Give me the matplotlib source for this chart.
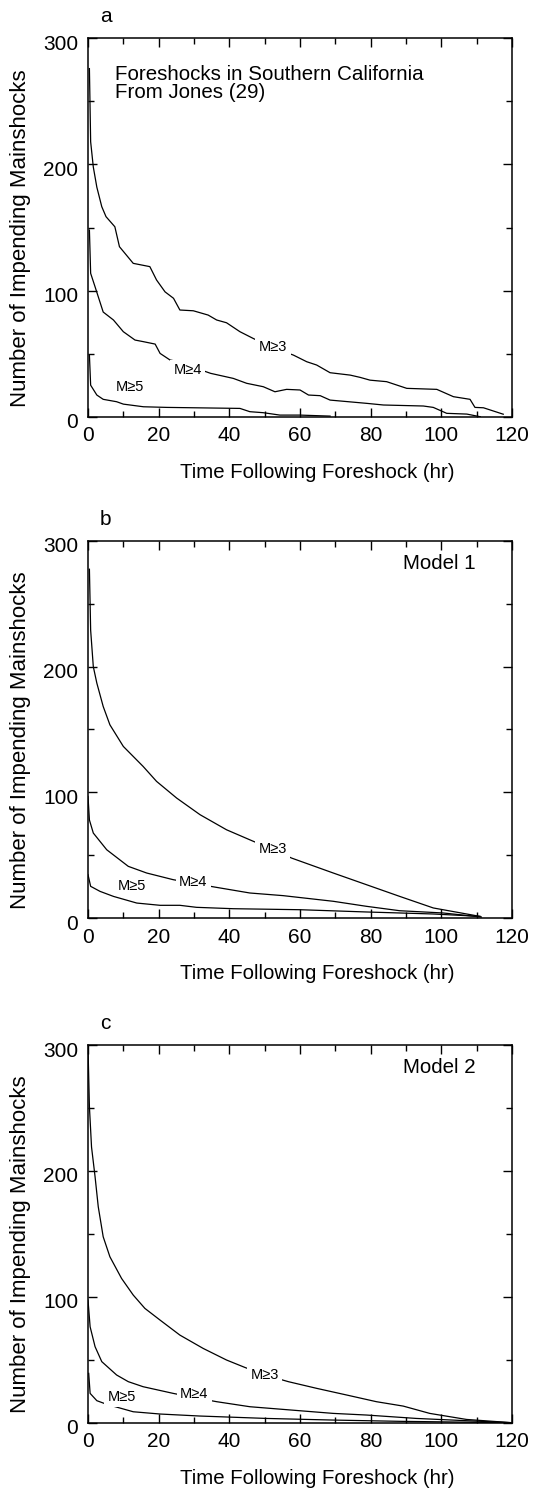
import matplotlib
matplotlib.use("Agg")
import matplotlib.pyplot as plt
from matplotlib.ticker import MultipleLocator
from matplotlib.transforms import ScaledTranslation

plt.rcParams['font.family'] = ['Liberation Sans', 'DejaVu Sans']

# panel a: observed (Jones 29)
a_m3_x = [0.4, 0.75, 1.5, 2.5, 3.9, 5.1, 7.6, 8.9, 12.8, 17.5, 19.4, 21.8, 24.2, 26, 29.8, 34, 36.4, 39.2, 43, 46.8,
          52, 58.1, 61.9, 64.7, 68.5, 74.2, 77, 79.8, 84.5, 90.2, 98.7, 103.4, 108.1, 109.5, 111.9, 117.5]
a_m3_y = [276, 218, 198, 182, 166.5, 158.6, 150.6, 134.8, 121.6, 119, 108.4, 99, 93.9, 84.6, 84, 80.6, 76.7, 74.5, 67.4, 62,
          55, 48.9, 43.6, 41, 34.9, 33, 31.2, 29, 27.8, 22.5, 21.7, 15.9, 13.8, 7.4, 7.1, 2]
a_m4_x = [0.4, 0.75, 2, 4.3, 7.2, 10, 13.3, 15.7, 19, 20.4, 23.2, 25.6, 30, 34.7, 41.1, 44.9, 49.6, 52.9, 56.2, 60,
          62.4, 65.7, 68.5, 78.9, 83.6, 94.9, 97.7, 101.5, 107.2, 111]
a_m4_y = [148, 113.7, 103, 83, 76.7, 67.4, 60.8, 59.5, 57.6, 50.2, 45, 43.6, 39, 34.4, 30.4, 26.5, 23.8, 19.8, 21.7, 21.2,
          17.2, 16.7, 13.2, 10.6, 9.3, 8.5, 7.4, 2.7, 2.1, 0]
a_m5_x = [0.4, 0.75, 2.5, 4.3, 8.1, 10, 15.7, 22.3, 43, 45.8, 49.6, 54.3, 60, 68.5]
a_m5_y = [48.9, 25, 17.2, 13.8, 11.9, 10, 7.9, 7.4, 6.6, 4, 3.2, 1.3, 1.3, 0.5]

# panel b: Model 1
b_m3_x = [0.4, 0.75, 1.5, 2.5, 4.3, 6.2, 10, 15.6, 19.4, 25.1, 31.7, 39.2, 46.8, 52, 57.6, 69.4, 78.8, 88.2, 97.7, 110.9]
b_m3_y = [277.5, 229, 200, 186.9, 168.3, 153.7, 136.5, 120.6, 108.7, 95.4, 82.2, 70.2, 61, 55, 47.7, 35.8, 26.5, 17.2, 8, 1.3]
b_m4_x = [0, 0.4, 1.5, 5.3, 11.4, 16.6, 24.1, 30, 35.9, 45.8, 55.2, 69.4, 78.8, 88.2, 100.5, 111.3]
b_m4_y = [96.7, 78, 67.6, 54.3, 41.1, 35.8, 30.5, 27.5, 24.6, 19.9, 17.8, 13.3, 9.3, 5.8, 4, 0.8]
b_m5_x = [0, 0.75, 3.4, 7.2, 13.8, 20.4, 26, 30.7, 41.1, 60, 78.8, 97.7, 110.9]
b_m5_y = [34.5, 25.2, 21.2, 17.2, 11.9, 10.1, 10.1, 8.5, 7.4, 6.6, 4.8, 3.2, 1.3]

# panel c: Model 2
c_m3_x = [0, 0.4, 1, 2, 2.9, 4.3, 6.2, 9.5, 12.8, 16.1, 20.4, 26, 32.6, 39.2, 44.4, 50, 56.7, 64.7, 73.2, 81.6, 89.2,
          96.7, 107.1, 120]
c_m3_y = [298.6, 251, 219, 195.4, 171.6, 147.7, 131.8, 114.6, 101.4, 90.8, 81.5, 69.6, 59, 49.8, 43.9, 38, 32.6, 27.3,
          22, 16.7, 13.2, 7.4, 2.6, 0]
c_m4_x = [0, 0.6, 2, 3.9, 8.1, 11.4, 15.6, 24.1, 30, 36.4, 45.8, 60, 69.4, 78.8, 92.9, 107.1, 120]
c_m4_y = [97.4, 76.2, 60.4, 48.5, 37.9, 32.6, 28.6, 23.3, 20, 16.7, 12.7, 9.5, 7.4, 6.1, 3.4, 1.6, 0]
c_m5_x = [0.2, 0.6, 2.5, 5.3, 12.8, 20.4, 31.7, 50.5, 69.4, 88.2, 120]
c_m5_y = [39.2, 23.3, 17.5, 14.6, 8.7, 6.9, 5.3, 3.4, 2.1, 1.1, 0]

curve_labels = ['M≥3', 'M≥4', 'M≥5']
panel_letters = ['a', 'b', 'c']
panel_notes = ['Foreshocks in Southern California\nFrom Jones (29)', 'Model 1', 'Model 2']

panels = [
    [(a_m3_x, a_m3_y), (a_m4_x, a_m4_y), (a_m5_x, a_m5_y)],
    [(b_m3_x, b_m3_y), (b_m4_x, b_m4_y), (b_m5_x, b_m5_y)],
    [(c_m3_x, c_m3_y), (c_m4_x, c_m4_y), (c_m5_x, c_m5_y)],
]
label_pos = [
    [(52.3, 55.5), (28.2, 37), (11.9, 23.8)],
    [(52.2, 54.9), (29.8, 28.4), (12.3, 25.7)],
    [(50, 37.9), (30.1, 22.5), (9.5, 20.7)],
]

fig = plt.figure(figsize=(5.58, 14.91), dpi=100)
rects = [
    [0.1577, 0.7205, 0.760, 0.2538],
    [0.1577, 0.3843, 0.760, 0.2529],
    [0.1577, 0.0458, 0.760, 0.2533],
]

for i in range(3):
    ax = fig.add_axes(rects[i])
    for (x, y) in panels[i]:
        ax.plot(x, y, color='black', lw=0.9)
    for j in range(3):
        lx, ly = label_pos[i][j]
        ax.text(lx, ly, curve_labels[j], fontsize=10.5, ha='center', va='center',
                bbox=dict(facecolor='white', edgecolor='none', pad=2.5))

    ax.set_xlim(0, 120)
    ax.set_ylim(0, 300)
    ax.xaxis.set_major_locator(MultipleLocator(20))
    ax.xaxis.set_minor_locator(MultipleLocator(10))
    ax.yaxis.set_major_locator(MultipleLocator(100))
    ax.yaxis.set_minor_locator(MultipleLocator(50))
    ax.tick_params(which='both', direction='in', top=True, right=True, width=1.0)
    ax.tick_params(which='major', length=6.5, labelsize=15, pad=7)
    ax.tick_params(which='minor', length=4.5)
    for sp in ax.spines.values():
        sp.set_linewidth(1.1)

    # the y tick labels sit a little low in the original
    off = ScaledTranslation(0, -4 / 100, fig.dpi_scale_trans)
    for t in ax.yaxis.get_major_ticks():
        t.label1.set_transform(t.label1.get_transform() + off)

    ax.set_xlabel('Time Following Foreshock (hr)', fontsize=14.7)
    ax.set_ylabel('Number of Impending Mainshocks', fontsize=16)
    ax.xaxis.set_label_coords(0.54, -0.122)
    ax.yaxis.set_label_coords(-0.135, 0.472)

    ax.text(0.042, 1.042, panel_letters[i], transform=ax.transAxes, fontsize=15,
            ha='center', va='baseline')
    if i == 0:
        ax.text(7.5, 279, panel_notes[i], fontsize=14.8, ha='left', va='top', linespacing=0.95)
    else:
        ax.text(109.7, 282, panel_notes[i], fontsize=14.8, ha='right', va='center')

fig.savefig('out.png', dpi=100)
